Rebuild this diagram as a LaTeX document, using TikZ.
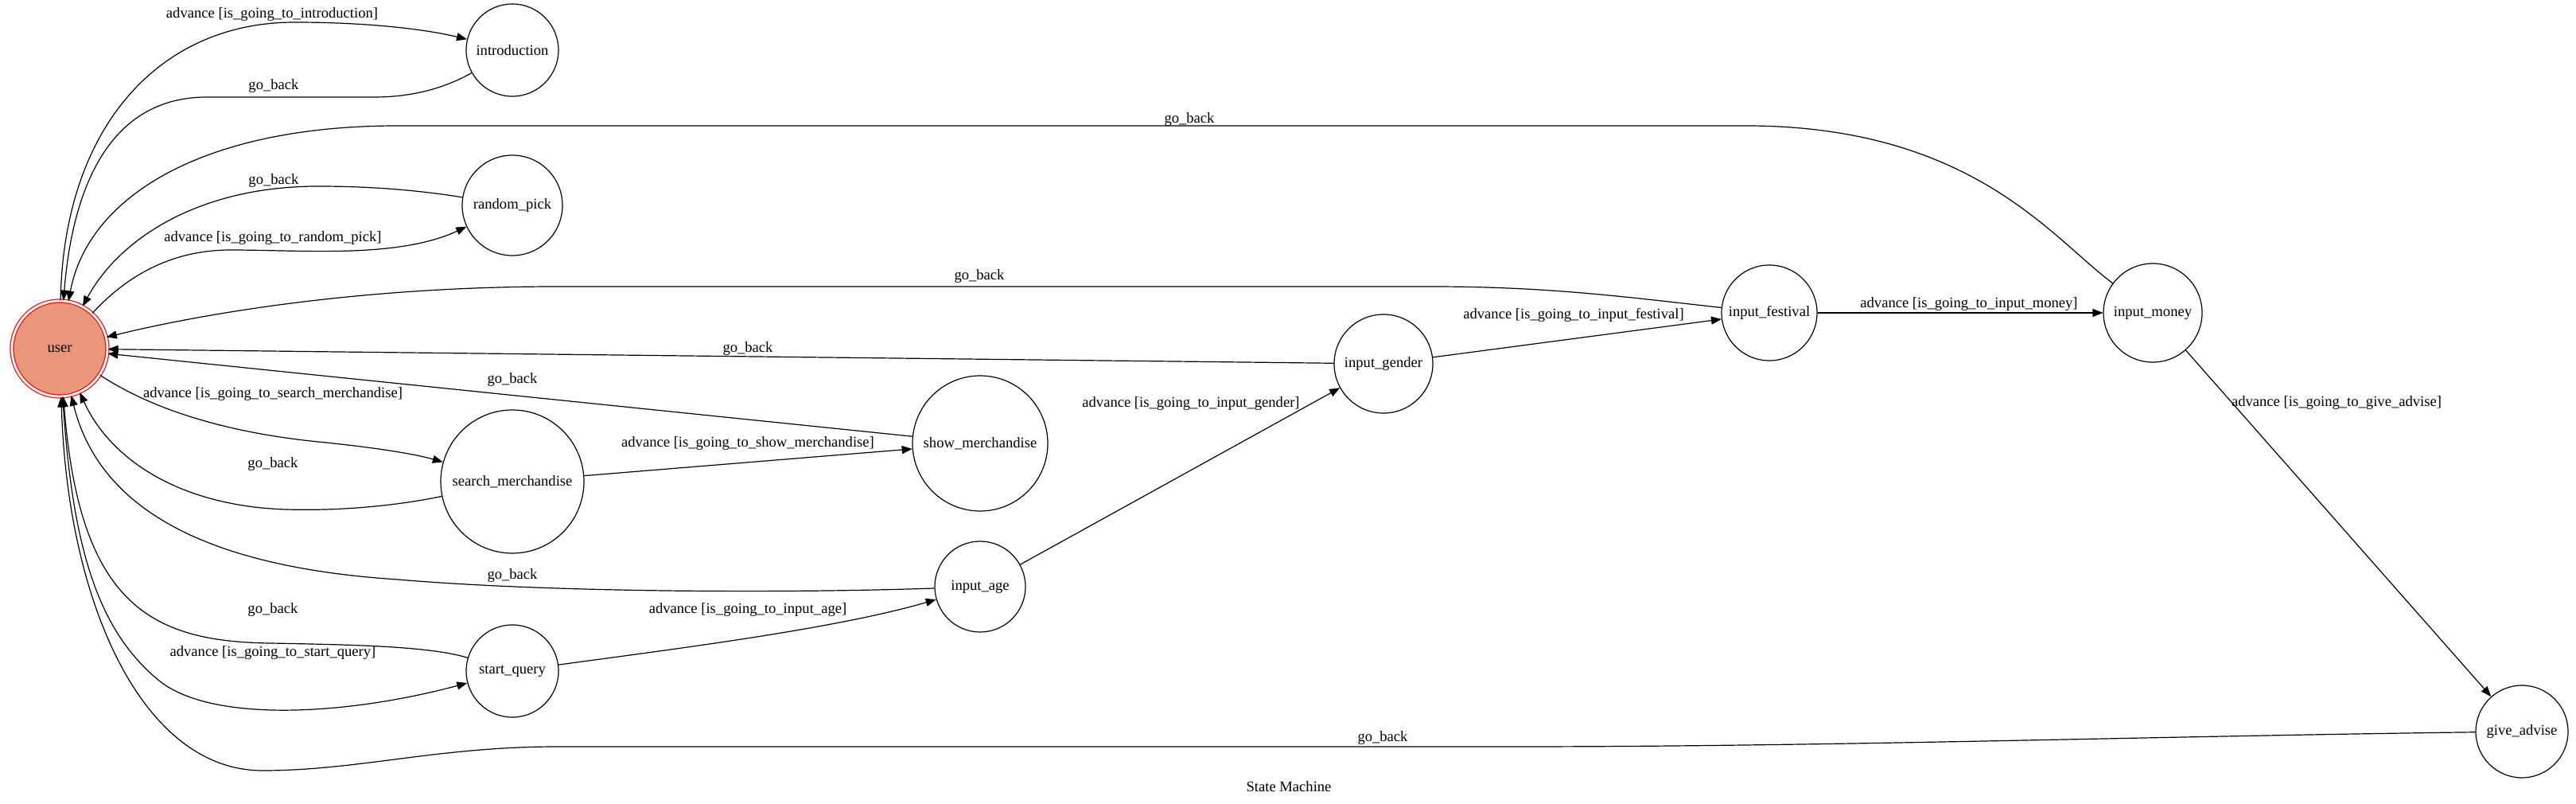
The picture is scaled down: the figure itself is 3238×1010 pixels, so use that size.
\documentclass[tikz,border=0pt]{standalone}
\usepackage{fontspec}
\setmainfont{Liberation Serif}
\usepackage{tikz}
\usetikzlibrary{arrows.meta}
\definecolor{FsmSalmon}{HTML}{E9967A}
\definecolor{FsmRed}{HTML}{FF0000}

\begin{document}
\begin{tikzpicture}[x=0.5pt,y=-0.5pt,
  every node/.style={font=\fontsize{9.3}{11}\selectfont},
  state/.style={circle,draw,line width=0.6pt,inner sep=0pt},
  edge/.style={line width=0.6pt,-{Triangle[length=6.5pt,width=5pt]}},
  lbl/.style={inner sep=0pt}]
  \useasboundingbox (0,0) rectangle (3238,1010);
  % states
  \node[state,fill=FsmSalmon,draw=FsmRed,double=white,double distance=1.4pt,minimum size=60pt] (user) at (75,438) {user};
  \node[state,minimum size=58pt] (intro) at (644,63) {introduction};
  \node[state,minimum size=63pt] (random) at (644,258) {random\_pick};
  \node[state,minimum size=90pt] (search) at (644,605) {search\_merchandise};
  \node[state,minimum size=85pt] (show) at (1232,557) {show\_merchandise};
  \node[state,minimum size=57pt] (age) at (1232,737) {input\_age};
  \node[state,minimum size=58pt] (start) at (644,843) {start\_query};
  \node[state,minimum size=62pt] (gender) at (1739,457) {input\_gender};
  \node[state,minimum size=60pt] (festival) at (2224,393) {input\_festival};
  \node[state,minimum size=62pt] (money) at (2706,393) {input\_money};
  \node[state,minimum size=58pt] (advise) at (3170,919) {give\_advise};

  % advance transitions
  \draw[edge] (user) .. controls (80,160) and (200,28) .. (370,28) .. controls (470,28) and (540,38) .. (intro);
  \draw[edge] (user) .. controls (170,335) and (230,314) .. (290,314) .. controls (380,314) and (500,325) .. (random);
  \draw[edge] (user) .. controls (200,520) and (300,545) .. (400,555) .. controls (470,562) and (520,570) .. (search);
  \draw[edge] (user) .. controls (90,680) and (120,790) .. (200,855) .. controls (264,907) and (430,900) .. (start);
  \draw[edge] (search) -- (show);
  \draw[edge] (start) .. controls (850,815) and (1050,790) .. (age);
  \draw[edge] (age) -- (gender);
  \draw[edge] (gender) -- (festival);
  \draw[edge] (festival) -- (money);
  \draw[edge] (money) -- (advise);

  % go_back transitions
  \draw[edge] (intro) .. controls (560,110) and (520,122) .. (470,122) -- (260,122) .. controls (130,122) and (90,250) .. (user);
  \draw[edge] (money) .. controls (2580,300) and (2480,160) .. (2200,158) -- (500,158) .. controls (250,158) and (110,250) .. (user);
  \draw[edge] (random) .. controls (520,238) and (460,234) .. (400,234) .. controls (250,234) and (150,300) .. (user);
  \draw[edge] (festival) .. controls (2050,374) and (1950,360) .. (1800,360) -- (700,360) .. controls (450,360) and (250,395) .. (user);
  \draw[edge] (gender) -- (user);
  \draw[edge] (show) -- (user);
  \draw[edge] (search) .. controls (500,635) and (430,642) .. (360,640) .. controls (230,636) and (140,580) .. (user);
  \draw[edge] (age) .. controls (1000,745) and (700,745) .. (500,728) .. controls (300,715) and (130,660) .. (user);
  \draw[edge] (start) .. controls (540,812) and (450,810) .. (340,808) .. controls (190,806) and (100,760) .. (user);
  \draw[edge] (advise) .. controls (2700,925) and (2300,938) .. (1900,938) -- (700,938) .. controls (550,938) and (450,968) .. (330,968) .. controls (180,968) and (85,760) .. (user);

  % labels
  \node[lbl] (adv-intro) at (342,18) {advance [is\_going\_to\_introduction]};
  \node[lbl] (adv-random) at (343,299) {advance [is\_going\_to\_random\_pick]};
  \node[lbl] (adv-search) at (343,495) {advance [is\_going\_to\_search\_merchandise]};
  \node[lbl] (adv-start) at (343,820) {advance [is\_going\_to\_start\_query]};
  \node[lbl] (adv-show) at (940,557) {advance [is\_going\_to\_show\_merchandise]};
  \node[lbl] (adv-age) at (940,766) {advance [is\_going\_to\_input\_age]};
  \node[lbl] (adv-gender) at (1497,507) {advance [is\_going\_to\_input\_gender]};
  \node[lbl] (adv-festival) at (1978,396) {advance [is\_going\_to\_input\_festival]};
  \node[lbl] (adv-money) at (2475,382) {advance [is\_going\_to\_input\_money]};
  \node[lbl] (adv-advise) at (2937,506) {advance [is\_going\_to\_give\_advise]};
  \foreach \n/\x/\y in {intro/344/108,money/1495/150,random/344/227,festival/1231/347,gender/940/438,show/644/477,search/343/583,age/644/723,start/343/766,advise/1738/927}
    \node[lbl] (back-\n) at (\x,\y) {go\_back};
  \node[lbl] (title) at (1620,988) {State Machine};
\end{tikzpicture}
\end{document}
